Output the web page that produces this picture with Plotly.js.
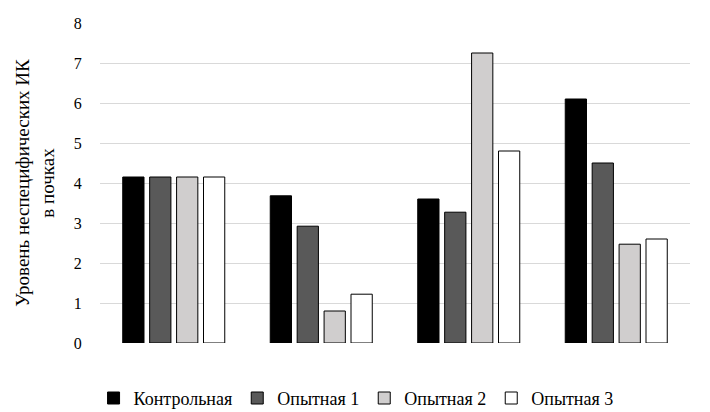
<!DOCTYPE html>
<html><head><meta charset="utf-8">
<script src="https://cdn.plot.ly/plotly-3.0.1.min.js"></script>
<style>html,body{margin:0;padding:0;background:#fff}#chart{width:710px;height:412px}</style>
</head><body><div id="chart"></div>
<script>
const categories = ["Группа 1", "Группа 2", "Группа 3", "Группа 4"];
const seriesNames = ["Контрольная", "Опытная 1", "Опытная 2", "Опытная 3"];
const control = [4.15, 3.68, 3.60, 6.10];
const exp1 = [4.15, 2.92, 3.27, 4.50];
const exp2 = [4.15, 0.80, 7.25, 2.47];
const exp3 = [4.15, 1.22, 4.80, 2.60];
const colors = ["#000000", "#595959", "#d0cece", "#ffffff"];
const yTicks = [0, 1, 2, 3, 4, 5, 6, 7, 8];

const values = [control, exp1, exp2, exp3];
const traces = values.map((v, i) => ({
  type: "bar", name: seriesNames[i], x: categories, y: v,
  marker: {color: colors[i], line: {color: "#000000", width: 1}},
  hoverinfo: "skip"
}));
Plotly.newPlot("chart", traces, {
  width: 710, height: 412,
  margin: {l: 100, r: 20, t: 23, b: 69, autoexpand: false},
  paper_bgcolor: "#ffffff", plot_bgcolor: "#ffffff",
  font: {family: "Liberation Serif", size: 16, color: "#000000"},
  barmode: "group", bargap: 0.27, bargroupgap: 0.21,
  xaxis: {showticklabels: false, ticks: "", showgrid: false, zeroline: false, showline: false},
  yaxis: {range: [0, 8], tickvals: yTicks, showgrid: true, gridcolor: "#d9d9d9",
    zeroline: false, showline: false, ticks: "outside", ticklen: 14, tickcolor: "rgba(0,0,0,0)",
    title: {text: "Уровень неспецифических ИК<br>в почках", standoff: 14}},
  legend: {orientation: "h", x: 0.434, xanchor: "center", y: -0.115, yanchor: "top", traceorder: "normal",
    font: {family: "Liberation Serif", size: 18, color: "#000000"}}
}, {displayModeBar: false, staticPlot: true});
</script></body></html>
